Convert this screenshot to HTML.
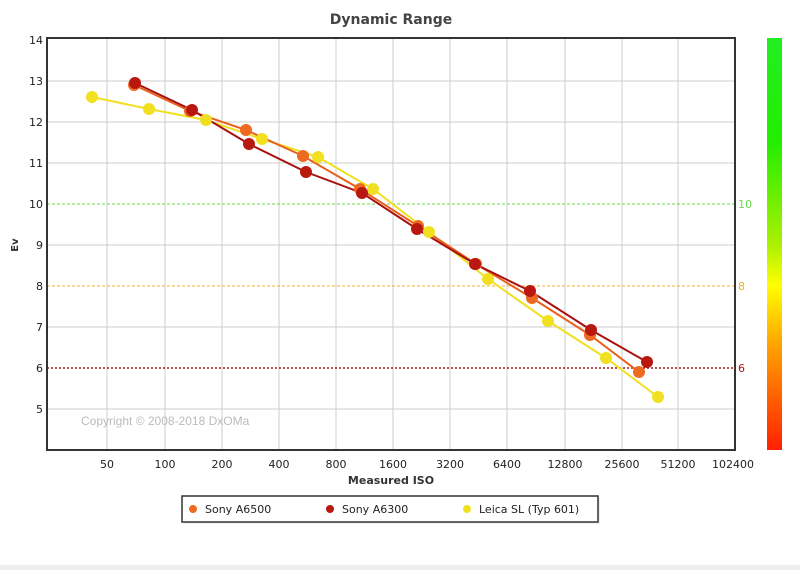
<!DOCTYPE html>
<html><head><style>body{margin:0;background:#fff;}svg{display:block;font-family:"DejaVu Sans","Liberation Sans",sans-serif;}</style></head>
<body>
<svg width="800" height="570" viewBox="0 0 800 570">
<defs><linearGradient id="g" x1="0" y1="0" x2="0" y2="1">
<stop offset="0" stop-color="#22ee22"/><stop offset="0.25" stop-color="#22ee00"/><stop offset="0.5" stop-color="#aaf000"/><stop offset="0.6" stop-color="#ffff00"/><stop offset="0.75" stop-color="#ffa000"/><stop offset="1" stop-color="#ff2000"/></linearGradient></defs>
<rect width="800" height="570" fill="#fff"/>
<rect x="0" y="565" width="800" height="5" fill="#eee"/>
<text x="391" y="24" font-size="14" font-weight="bold" fill="#444" text-anchor="middle">Dynamic Range</text>
<g stroke="#ccc" stroke-width="1">
<line x1="107" y1="38" x2="107" y2="450"/><line x1="165" y1="38" x2="165" y2="450"/><line x1="222" y1="38" x2="222" y2="450"/><line x1="279" y1="38" x2="279" y2="450"/><line x1="336" y1="38" x2="336" y2="450"/><line x1="393" y1="38" x2="393" y2="450"/><line x1="450" y1="38" x2="450" y2="450"/><line x1="507" y1="38" x2="507" y2="450"/><line x1="565" y1="38" x2="565" y2="450"/><line x1="622" y1="38" x2="622" y2="450"/><line x1="678" y1="38" x2="678" y2="450"/>
<line x1="47" y1="81" x2="735" y2="81"/><line x1="47" y1="122" x2="735" y2="122"/><line x1="47" y1="163" x2="735" y2="163"/><line x1="47" y1="245" x2="735" y2="245"/><line x1="47" y1="327" x2="735" y2="327"/><line x1="47" y1="409" x2="735" y2="409"/>
</g>
<line x1="47" y1="204" x2="735" y2="204" stroke="#66dd44" stroke-dasharray="3,2"/>
<line x1="47" y1="286" x2="735" y2="286" stroke="#f0b030" stroke-dasharray="3,2"/>
<line x1="47" y1="368" x2="735" y2="368" stroke="#aa1111" stroke-dasharray="2,2" stroke-width="1.5"/>
<rect x="47" y="38" width="688" height="412" fill="none" stroke="#333" stroke-width="2"/>
<g font-size="11" fill="#222" text-anchor="end">
<text x="43" y="44">14</text><text x="43" y="85">13</text><text x="43" y="126">12</text><text x="43" y="167">11</text><text x="43" y="208">10</text><text x="43" y="249">9</text><text x="43" y="290">8</text><text x="43" y="331">7</text><text x="43" y="372">6</text><text x="43" y="413">5</text></g>
<text x="18" y="245" font-size="10" font-weight="bold" fill="#333" transform="rotate(-90 18 245)" text-anchor="middle">Ev</text>
<g font-size="11" fill="#222" text-anchor="middle">
<text x="107" y="468">50</text><text x="165" y="468">100</text><text x="222" y="468">200</text><text x="279" y="468">400</text><text x="336" y="468">800</text><text x="393" y="468">1600</text><text x="450" y="468">3200</text><text x="507" y="468">6400</text><text x="565" y="468">12800</text><text x="622" y="468">25600</text><text x="678" y="468">51200</text><text x="733" y="468">102400</text></g>
<text x="391" y="484" font-size="11" font-weight="bold" fill="#333" text-anchor="middle">Measured ISO</text>
<text x="738" y="208" font-size="11" fill="#66dd44">10</text>
<text x="738" y="290" font-size="11" fill="#f0b030">8</text>
<text x="738" y="372" font-size="11" fill="#aa1111">6</text>
<text x="81" y="425" font-size="12" fill="#bbb" font-family="Liberation Sans,sans-serif">Copyright © 2008-2018 DxOMa</text>
<rect x="767" y="38" width="15" height="412" fill="url(#g)"/>
<g fill="none" stroke-width="2">
<polyline stroke="#f0e020" points="92,97 149,109 206,120 262,139 318,157 373,189 429,232 488,279 548,321 606,358 658,397"/>
<polyline stroke="#e8601e" points="134,85 190,111 246,130 303,156 360,189 418,226 476,264 532,298 590,335 639,372"/>
<polyline stroke="#a81010" points="135,83 192,110 249,144 306,172 362,193 417,229 475,264 530,291 591,330 647,362"/>
</g>
<g fill="#f0e020"><circle cx="92" cy="97" r="6"/><circle cx="149" cy="109" r="6"/><circle cx="206" cy="120" r="6"/><circle cx="262" cy="139" r="6"/><circle cx="318" cy="157" r="6"/><circle cx="373" cy="189" r="6"/><circle cx="429" cy="232" r="6"/><circle cx="488" cy="279" r="6"/><circle cx="548" cy="321" r="6"/><circle cx="606" cy="358" r="6"/><circle cx="658" cy="397" r="6"/></g>
<g fill="#ee6a20"><circle cx="134" cy="85" r="6"/><circle cx="190" cy="111" r="6"/><circle cx="246" cy="130" r="6"/><circle cx="303" cy="156" r="6"/><circle cx="360" cy="189" r="6"/><circle cx="418" cy="226" r="6"/><circle cx="476" cy="264" r="6"/><circle cx="532" cy="298" r="6"/><circle cx="590" cy="335" r="6"/><circle cx="639" cy="372" r="6"/></g>
<g fill="#b81810"><circle cx="135" cy="83" r="6"/><circle cx="192" cy="110" r="6"/><circle cx="249" cy="144" r="6"/><circle cx="306" cy="172" r="6"/><circle cx="362" cy="193" r="6"/><circle cx="417" cy="229" r="6"/><circle cx="475" cy="264" r="6"/><circle cx="530" cy="291" r="6"/><circle cx="591" cy="330" r="6"/><circle cx="647" cy="362" r="6"/></g>
<rect x="184" y="498" width="416" height="26" fill="#eee"/>
<rect x="182" y="496" width="416" height="26" fill="#fff" stroke="#333" stroke-width="1.5"/>
<circle cx="193" cy="509" r="4" fill="#ee6a20"/><text x="205" y="513" font-size="11" fill="#222">Sony A6500</text>
<circle cx="330" cy="509" r="4" fill="#b81810"/><text x="342" y="513" font-size="11" fill="#222">Sony A6300</text>
<circle cx="467" cy="509" r="4" fill="#f0e020"/><text x="479" y="513" font-size="11" fill="#222">Leica SL (Typ 601)</text>
</svg>
</body></html>
